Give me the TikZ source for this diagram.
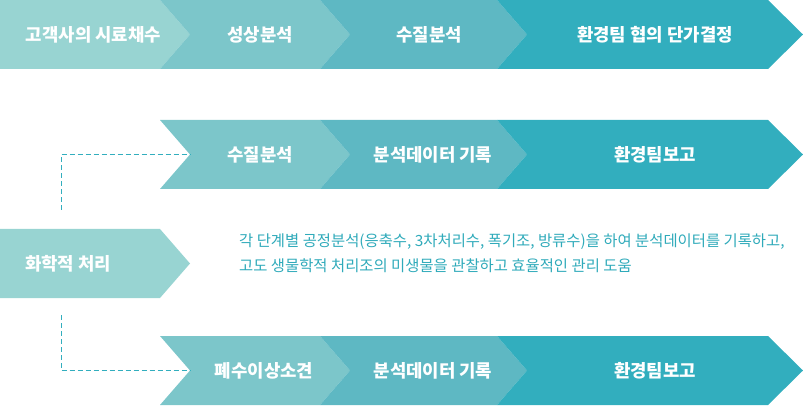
\documentclass[tikz,border=0pt]{standalone}
\usepackage{fontspec}
\usepackage{xcolor}
\usepackage{tikz}
\usetikzlibrary{positioning, calc}
\setmainfont{Noto Sans CJK KR}
\definecolor{tealA}{RGB}{152, 212, 210}
\definecolor{tealB}{RGB}{124, 198, 202}
\definecolor{tealC}{RGB}{94, 184, 195}
\definecolor{tealD}{RGB}{50, 174, 190}
\definecolor{tealtext}{RGB}{47, 170, 186}

% one arrow segment: colour, left x, right x, top y, notch depth, tip depth
\newcommand{\chevseg}[6]{%
  \fill[#1] (#2,#4) -- (#3,#4) -- ({#3+#6},{#4+34.5}) -- (#3,{#4+69})
    -- (#2,{#4+69}) -- ({#2+#5},{#4+34.5}) -- cycle;}

\tikzset{
  steplabel/.style={font=\bfseries\fontsize{17.8}{19}\selectfont, text=white, inner sep=0pt},
  dashlink/.style={tealD, line width=1pt, dash pattern=on 5pt off 3pt}
}

\begin{document}
\begin{tikzpicture}[x=1pt, y=-1pt, line cap=butt, line join=miter]
			\useasboundingbox (0,0) rectangle (803,406);

			% -- Top row --
			\chevseg{tealA}{0}{160}{0}{0}{30}
			\chevseg{tealB}{160}{320}{0}{30}{30}
			\chevseg{tealC}{320}{497}{0}{30}{30}
			\chevseg{tealD}{497}{768}{0}{30}{35}
			\node[steplabel] (sample) at (93.5, 34.5) {고객사의 시료채수};
			\node[steplabel] (prop) at (260, 34.5) {성상분석};
			\node[steplabel] (water) at (429, 34.5) {수질분석};
			\node[steplabel] (price) at (655, 34.5) {환경팀 협의 단가결정};

			% -- Middle row --
			\chevseg{tealB}{160}{320}{120}{30}{30}
			\chevseg{tealC}{320}{497}{120}{30}{30}
			\chevseg{tealD}{497}{768}{120}{30}{35}
			\node[steplabel] (waterM) at (260, 154.5) {수질분석};
			\node[steplabel] (dataM) at (433, 154.5) {분석데이터 기록};
			\node[steplabel] (reportM) at (655, 154.5) {환경팀보고};

			% -- Chemical treatment --
			\chevseg{tealA}{0}{160}{229}{0}{30}
			\node[steplabel] (chem) at (68, 264) {화학적 처리};
			\node[font=\fontsize{15.4}{25}\selectfont, text=tealtext, align=left, anchor=west, inner sep=0pt] (desc) at (239, 253.5)
				{각 단계별 공정분석(응축수, 3차처리수, 폭기조, 방류수)을 하여 분석데이터를 기록하고,\\
				 고도 생물학적 처리조의 미생물을 관찰하고 효율적인 관리 도움};

			% -- Bottom row --
			\chevseg{tealB}{160}{320}{336}{30}{30}
			\chevseg{tealC}{320}{497}{336}{30}{30}
			\chevseg{tealD}{497}{768}{336}{30}{35}
			\node[steplabel] (waste) at (264, 370.5) {폐수이상소견};
			\node[steplabel] (dataB) at (433, 370.5) {분석데이터 기록};
			\node[steplabel] (reportB) at (655, 370.5) {환경팀보고};

			% -- Dashed links --
			\coordinate (chemup) at (61, 210);
			\coordinate (chemdown) at (61, 315);
			\coordinate (notchM) at (190, 154.5);
			\coordinate (notchB) at (190, 370.5);
			\draw[dashlink] (chemup) |- (notchM);
			\draw[dashlink] (chemdown) |- (notchB);

		\end{tikzpicture}
\end{document}
